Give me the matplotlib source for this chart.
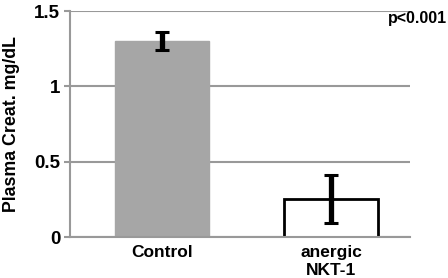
import matplotlib
matplotlib.use("Agg")
import matplotlib.pyplot as plt

plt.rcParams["font.family"] = ["Liberation Sans", "DejaVu Sans"]

categories = ["Control", "anergic\nNKT-1"]
values = [1.30, 0.25]
errors = [0.06, 0.16]
yticks = [0, 0.5, 1, 1.5]
yticklabels = ["0", "0.5", "1", "1.5"]

fig = plt.figure(figsize=(4.48, 2.78), dpi=100)
ax = fig.add_axes([70/448, 41/278, 340/448, 226/278])

x = [0, 1]
ax.bar(x[0], values[0], width=0.556, color="#a6a6a6", edgecolor="#a6a6a6", zorder=2)
ax.bar(x[1], values[1], width=0.556, color="white", edgecolor="black", linewidth=2, zorder=2)
ax.errorbar(x, values, yerr=errors, fmt="none", ecolor="black", elinewidth=3.8, capsize=5, capthick=2.2, zorder=3)

ax.set_xlim(-0.547, 1.465)
ax.set_ylim(0, 1.5)
ax.set_yticks(yticks)
ax.set_yticklabels(yticklabels, fontsize=13.5, fontweight="bold")
ax.set_xticks(x)
ax.set_xticklabels(categories, fontsize=12.5, fontweight="bold", linespacing=1.25)
ax.tick_params(axis="x", length=0, pad=6)
ax.tick_params(axis="y", length=4, color="#999999", width=1.5, pad=3)
ax.yaxis.grid(True, color="#999999", linewidth=1.5, zorder=0)
ax.set_axisbelow(True)
for s in ["top", "right"]:
    ax.spines[s].set_visible(False)
ax.spines["left"].set_color("#999999")
ax.spines["left"].set_linewidth(1.5)
ax.spines["bottom"].set_color("#999999")
ax.spines["bottom"].set_linewidth(1.5)
ax.set_ylabel("Plasma Creat. mg/dL", fontsize=12.8, fontweight="bold", labelpad=10)
fig.text(447/448, 1 - 19/278, "p<0.001", ha="right", va="center", fontsize=11.5, fontweight="bold")

fig.savefig("out.png", dpi=100)
